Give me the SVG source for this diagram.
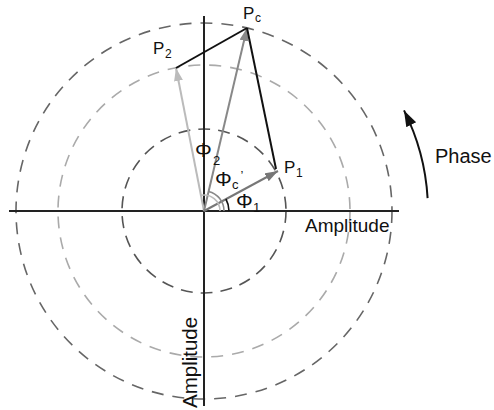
<svg xmlns="http://www.w3.org/2000/svg" width="494" height="410" viewBox="0 0 494 410">
<style>
text{font-family:"Liberation Sans",Arial,sans-serif;fill:#111}
.ring{fill:none;stroke-width:1.6}
.lbl{font-size:17px}
.sub{font-size:12px}
.phi{font-size:21px}
.phs{font-size:13px}
.ax{stroke:#222;stroke-width:2;fill:none}
</style>
<defs>
<marker id="hP1" markerUnits="userSpaceOnUse" markerWidth="14" markerHeight="10" refX="13" refY="4.5" orient="auto"><path d="M0,0 L13,4.5 L0,9 z" fill="#777"/></marker>
<marker id="hPc" markerUnits="userSpaceOnUse" markerWidth="14" markerHeight="10" refX="13" refY="4.5" orient="auto"><path d="M0,0 L13,4.5 L0,9 z" fill="#888"/></marker>
<marker id="hP2" markerUnits="userSpaceOnUse" markerWidth="14" markerHeight="10" refX="13" refY="4.5" orient="auto"><path d="M0,0 L13,4.5 L0,9 z" fill="#bbb"/></marker>
<marker id="hPh" markerUnits="userSpaceOnUse" markerWidth="17" markerHeight="12" refX="16" refY="5.5" orient="auto"><path d="M0,0 L16,5.5 L0,11 z" fill="#111"/></marker>
</defs>
<g id="rings">
<circle class="ring" cx="204" cy="211" r="188" stroke="#666" stroke-dasharray="12 9"/>
<circle class="ring" cx="204" cy="211" r="146" stroke="#aaa" stroke-dasharray="12 9"/>
<circle class="ring" cx="204" cy="211" r="82" stroke="#555" stroke-dasharray="12 8"/>
</g>
<g id="axes">
<line class="ax" x1="9" y1="211" x2="399" y2="211"/>
<line class="ax" x1="204" y1="16" x2="204" y2="406"/>
</g>
<g id="connectors">
<line x1="204" y1="211" x2="176" y2="68" stroke="#bbb" stroke-width="2" marker-end="url(#hP2)"/>
<line x1="204" y1="211" x2="247" y2="28" stroke="#888" stroke-width="2" marker-end="url(#hPc)"/>
<line x1="204" y1="211" x2="278" y2="171" stroke="#777" stroke-width="2" marker-end="url(#hP1)"/>
<line x1="176" y1="68" x2="247" y2="28" stroke="#111" stroke-width="2"/>
<line x1="247" y1="28" x2="276" y2="169" stroke="#111" stroke-width="2"/>
<path d="M220,211 A16,16 0 0 0 200.9,195.3" fill="none" stroke="#bbb" stroke-width="1.6"/>
<path d="M224,211 A20,20 0 0 0 208.6,191.5" fill="none" stroke="#888" stroke-width="1.6"/>
<path d="M229,211 A25,25 0 0 0 225.9,199" fill="none" stroke="#111" stroke-width="1.6"/>
<path d="M427.6,198.1 A224,224 0 0 0 404,110.4" fill="none" stroke="#111" stroke-width="2" marker-end="url(#hPh)"/>
</g>
<g id="P2"><text class="lbl" x="153" y="54">P<tspan class="sub" x="165" y="58">2</tspan></text></g>
<g id="Pc"><text class="lbl" x="243" y="19">P<tspan class="sub" x="255" y="22">c</tspan></text></g>
<g id="P1"><text class="lbl" x="284" y="173">P<tspan class="sub" x="296" y="177">1</tspan></text></g>
<g id="phi2"><text class="phi" x="195" y="156.5">Φ<tspan class="phs" x="213" y="164.5">2</tspan></text></g>
<g id="phic"><text class="phi" x="215" y="185.5">Φ<tspan class="phs" x="232" y="189">c</tspan><tspan class="phs" x="240.5" y="179.5">’</tspan></text></g>
<g id="phi1"><text class="phi" x="236" y="208">Φ<tspan class="phs" x="253" y="212">1</tspan></text></g>
<g id="amp-h"><text x="305" y="232" font-size="19">Amplitude</text></g>
<g id="amp-v"><text x="0" y="0" font-size="20.5" transform="translate(197,408) rotate(-90)">Amplitude</text></g>
<g id="phase"><text x="435" y="163" font-size="20">Phase</text></g>
</svg>
